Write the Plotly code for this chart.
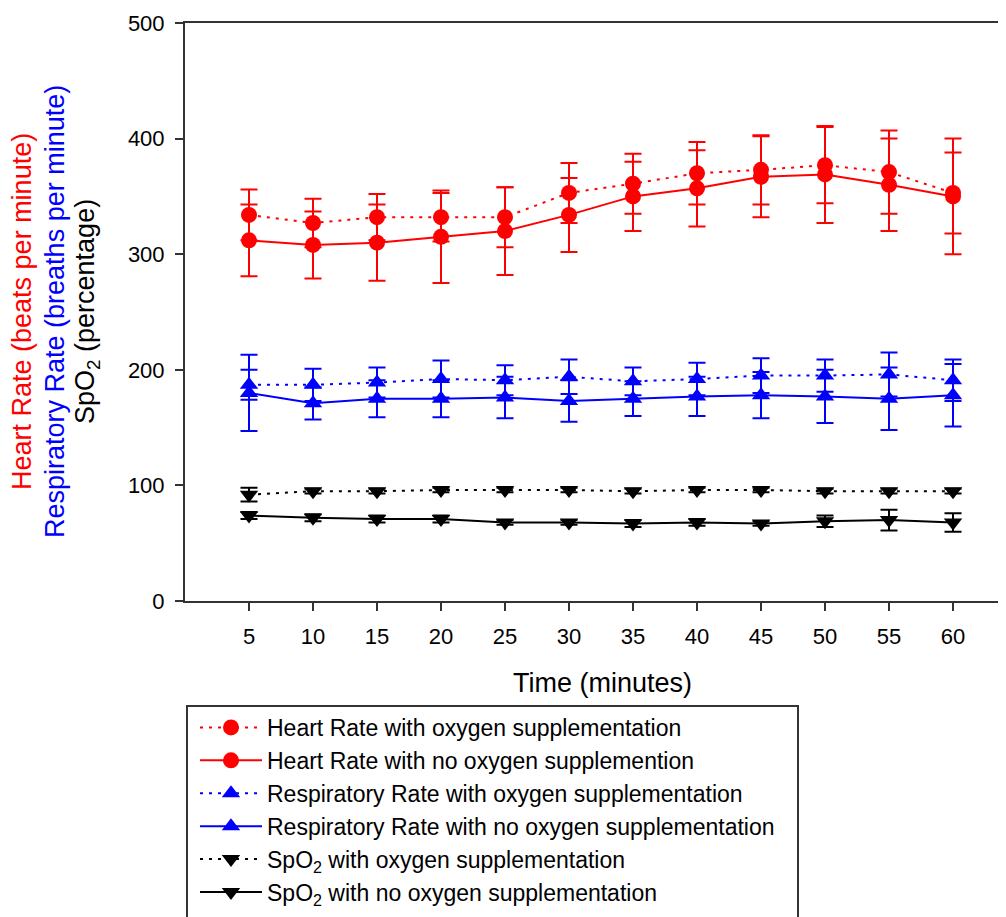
import plotly.graph_objects as go

time_min = [5, 10, 15, 20, 25, 30, 35, 40, 45, 50, 55, 60]

hr_o2 = [334, 327, 332, 332, 332, 353, 361, 370, 373, 377, 371, 353]
hr_o2_err = [22, 21, 20, 21, 26, 26, 26, 27, 30, 33, 36, 35]
hr_no = [312, 308, 310, 315, 320, 334, 350, 357, 367, 369, 360, 350]
hr_no_err = [31, 29, 33, 40, 38, 32, 30, 33, 35, 42, 40, 50]

rr_o2 = [187, 187, 189, 192, 191, 194, 190, 192, 195, 195, 196, 191]
rr_o2_err = [13, 14, 13, 16, 13, 15, 12, 14, 15, 14, 19, 18]
rr_no = [180, 171, 175, 175, 176, 173, 175, 177, 178, 177, 175, 178]
rr_no_err = [33, 14, 16, 16, 18, 18, 15, 17, 20, 23, 27, 27]

spo2_o2 = [92, 95, 95, 96, 96, 96, 95, 96, 96, 95, 95, 95]
spo2_o2_err = [6, 2, 2, 2, 2, 2, 2, 2, 2, 2, 2, 2]
spo2_no = [74, 72, 71, 71, 68, 68, 67, 68, 67, 69, 70, 68]
spo2_no_err = [3, 3, 3, 3, 2, 2, 3, 3, 2, 5, 9, 8]

names = [
    "Heart Rate with oxygen supplementation",
    "Heart Rate with no oxygen supplemention",
    "Respiratory Rate with oxygen supplementation",
    "Respiratory Rate with no oxygen supplementation",
    "SpO<sub>2</sub> with oxygen supplementation",
    "SpO<sub>2</sub> with no oxygen supplementation",
]
y_ticks = [0, 100, 200, 300, 400, 500]

FONT = "Liberation Sans, Arial, sans-serif"
DOT = "3px,6px"

series = [
    (hr_o2, hr_o2_err, "#ff0000", "circle", DOT),
    (hr_no, hr_no_err, "#ff0000", "circle", "solid"),
    (rr_o2, rr_o2_err, "#0000ff", "triangle-up", DOT),
    (rr_no, rr_no_err, "#0000ff", "triangle-up", "solid"),
    (spo2_o2, spo2_o2_err, "#000000", "triangle-down", DOT),
    (spo2_no, spo2_no_err, "#000000", "triangle-down", "solid"),
]

fig = go.Figure()
for (vals, errs, color, sym, dash), name in zip(series, names):
    fig.add_trace(go.Scatter(
        x=time_min, y=vals, name=name, mode="lines+markers",
        line=dict(color=color, width=2, dash=dash),
        marker=dict(color=color, symbol=sym, size=16),
        error_y=dict(type="data", array=errs, visible=True, color=color,
                     thickness=2, width=8.5),
    ))

# page body has an 8px margin; work in screen pixels and convert
OFF = 8
W, H = 1006 - OFF, 917 - OFF
PL, PR, PT, PB = 185, 1006, 23, 601  # plot box in screen pixels
L, R, T = PL - OFF, W - (PR - OFF), PT - OFF
B = H - (PB - OFF)
pw, ph = W - L - R, H - T - B


def px_x(p):
    return (p - PL) / pw


def px_y(p):
    return (PB - p) / ph


fig.update_layout(
    width=W, height=H,
    margin=dict(l=L, r=R, t=T, b=B, pad=0, autoexpand=False),
    paper_bgcolor="white", plot_bgcolor="white",
    font=dict(family=FONT, color="#000000"),
    showlegend=True,
    legend=dict(
        x=px_x(195), y=px_y(706), xanchor="left", yanchor="top",
        borderwidth=0, bgcolor="rgba(0,0,0,0)",
        font=dict(size=23, family=FONT, color="#000000"),
        itemwidth=62, tracegroupgap=0,
    ),
    xaxis=dict(
        range=[0, 64.14], tickmode="array", tickvals=time_min,
        ticktext=[str(t) for t in time_min],
        showline=True, linecolor="#333333", linewidth=2, mirror=True,
        ticks="outside", ticklen=8, tickwidth=2, tickcolor="#333333",
        showgrid=False, zeroline=False,
        tickfont=dict(size=22, family=FONT, color="#000000"),
        ticklabelstandoff=7,
    ),
    yaxis=dict(
        range=[0, 500], tickmode="array", tickvals=y_ticks,
        ticktext=[str(t) for t in y_ticks],
        showline=True, linecolor="#333333", linewidth=2, mirror=False,
        ticks="outside", ticklen=8, tickwidth=2, tickcolor="#333333",
        showgrid=False, zeroline=False,
        tickfont=dict(size=22, family=FONT, color="#000000"),
        ticklabelstandoff=6,
    ),
)

# legend frame (extends past the bottom edge as in the reference)
fig.add_shape(
    type="rect", xref="paper", yref="paper",
    x0=px_x(187), x1=px_x(798), y0=px_y(940), y1=px_y(706),
    line=dict(color="#333333", width=2), fillcolor="rgba(0,0,0,0)",
    layer="below",
)

annots = [
    ("Heart Rate (beats per minute)", "#ff0000", 22),
    ("Respiratory Rate (breaths per minute)", "#0000ff", 55),
    ("SpO<sub>2</sub> (percentage)", "#000000", 87),
]
for txt, col, xp in annots:
    fig.add_annotation(
        text=txt, xref="paper", yref="paper", x=px_x(xp), y=px_y(312),
        xanchor="center", yanchor="middle", textangle=-90, showarrow=False,
        font=dict(size=27, family=FONT, color=col),
    )

fig.add_annotation(
    text="Time (minutes)", xref="paper", yref="paper", x=px_x(602), y=px_y(683),
    xanchor="center", yanchor="middle", showarrow=False,
    font=dict(size=27, family=FONT, color="#000000"),
)

fig.write_html("out.html")
